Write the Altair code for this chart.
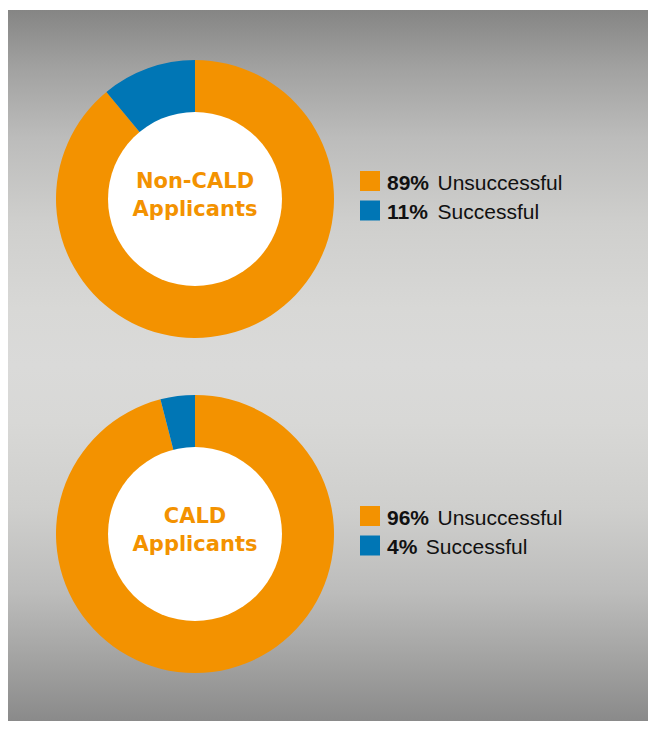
import altair as alt
import pandas as pd

# ---- data ----
groups = ["Non-CALD Applicants", "CALD Applicants"]
title_line1 = ["Non-CALD", "CALD"]
title_line2 = ["Applicants", "Applicants"]
categories = ["Unsuccessful", "Successful"]
unsuccessful = [89, 96]
successful = [11, 4]
cat_colors = ["#F39200", "#0076B5"]

# Arial-like bold widths (em) for measuring the percentage labels
BOLD_W = {c: 0.556 for c in "0123456789"}
BOLD_W["%"] = 0.889
FS = 21

rows = []
for gi, g in enumerate(groups):
    vals = [unsuccessful[gi], successful[gi]]
    start = 0
    for ci, c in enumerate(categories):
        v = vals[ci]
        pct = f"{v}%"
        w = sum(BOLD_W.get(ch, 0.6) for ch in pct) * FS
        rows.append(dict(group=g, idx=gi, cat=c, row=ci, value=v,
                         start=start, end=start + v, pct=pct,
                         tx=379 + w + 8.5))
        start += v
df = pd.DataFrame(rows)
titles = pd.DataFrame(dict(group=groups, idx=[0, 1], l1=title_line1, l2=title_line2))

W, H = 640, 713
yscale = alt.Scale(domain=[0, 1], range=[191, 526])
color_scale = alt.Scale(domain=categories, range=cat_colors)

bg = alt.Chart(pd.DataFrame({"a": [0]})).mark_rect(
    color=alt.Gradient(
        gradient="linear", x1=0, x2=0, y1=0, y2=1,
        stops=[
            alt.GradientStop(offset=0.0, color="#858584"),
            alt.GradientStop(offset=0.08, color="#a1a1a0"),
            alt.GradientStop(offset=0.18, color="#bcbcbb"),
            alt.GradientStop(offset=0.30, color="#cfcfcd"),
            alt.GradientStop(offset=0.42, color="#d8d8d6"),
            alt.GradientStop(offset=0.50, color="#dadad9"),
            alt.GradientStop(offset=0.58, color="#d8d8d6"),
            alt.GradientStop(offset=0.70, color="#cfcfcd"),
            alt.GradientStop(offset=0.82, color="#bcbcbb"),
            alt.GradientStop(offset=0.92, color="#a1a1a0"),
            alt.GradientStop(offset=1.0, color="#8a8a8a"),
        ],
    )
).encode(x=alt.value(-1), x2=alt.value(W), y=alt.value(2), y2=alt.value(H))

base = alt.Chart(df)

arcs = base.mark_arc(radius=139, radius2=86).encode(
    theta=alt.Theta("start:Q", scale=alt.Scale(domain=[0, 100], range=[0, 6.283185307])),
    theta2="end:Q",
    color=alt.Color("cat:N", scale=color_scale, legend=None),
    x=alt.value(187),
    y=alt.Y("idx:Q", scale=yscale, axis=None, stack=None),
)

hole = alt.Chart(titles).mark_circle(size=(2 * 87) ** 2, color="white", opacity=1).encode(
    x=alt.value(187),
    y=alt.Y("idx:Q", scale=yscale, axis=None),
)

tfont = dict(font="DejaVu Sans", fontSize=21, fontWeight="bold", color="#F39200",
             align="center", baseline="alphabetic")
t1 = alt.Chart(titles).mark_text(dy=-11.5, **tfont).encode(
    x=alt.value(187), y=alt.Y("idx:Q", scale=yscale, axis=None), text="l1:N")
t2 = alt.Chart(titles).mark_text(dy=17, **tfont).encode(
    x=alt.value(187), y=alt.Y("idx:Q", scale=yscale, axis=None), text="l2:N")

legend_layers = []
for r, (sq_off, txt_off) in enumerate([(-18, -9), (11.5, 20)]):
    sub = base.transform_filter(f"datum.row == {r}")
    sq = sub.mark_square(size=400, opacity=1, yOffset=sq_off).encode(
        x=alt.value(362),
        y=alt.Y("idx:Q", scale=yscale, axis=None, stack=None),
        color=alt.Color("cat:N", scale=color_scale, legend=None),
    )
    bold = sub.mark_text(font="Liberation Sans", fontSize=FS, fontWeight="bold",
                         color="#111111", align="left", baseline="alphabetic",
                         dy=txt_off).encode(
        x=alt.value(379),
        y=alt.Y("idx:Q", scale=yscale, axis=None, stack=None),
        text="pct:N",
    )
    reg = sub.mark_text(font="Liberation Sans", fontSize=FS, fontWeight="normal",
                        color="#111111", align="left", baseline="alphabetic",
                        dy=txt_off).encode(
        x=alt.X("tx:Q", scale=None, axis=None),
        y=alt.Y("idx:Q", scale=yscale, axis=None, stack=None),
        text="cat:N",
    )
    legend_layers += [sq, bold, reg]

chart = alt.layer(bg, arcs, hole, t1, t2, *legend_layers).properties(
    width=W, height=H, padding=0,
    autosize=alt.AutoSizeParams(type="none"),
    background="white",
).configure_view(stroke=None)

chart.save("out.html", embed_options={"renderer": "svg", "actions": False})
